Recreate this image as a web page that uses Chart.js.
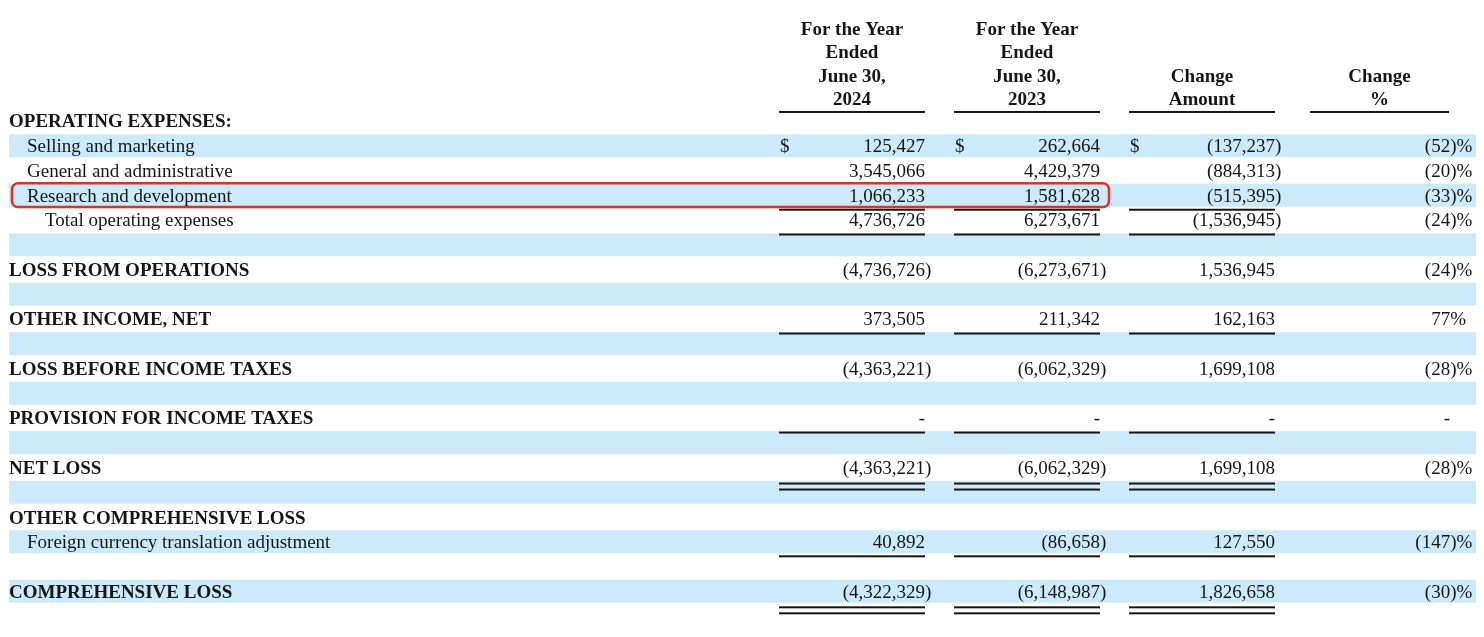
<!DOCTYPE html>
<html>
<head>
<meta charset="utf-8">
<script src="https://cdn.jsdelivr.net/npm/chart.js@4.4.1/dist/chart.umd.min.js"></script>
<style>
  html, body { margin: 0; padding: 0; background: #fff; }
  #wrap { width: 1484px; height: 637px; position: relative; }
</style>
</head>
<body>
<div id="wrap"><canvas id="table"></canvas></div>
<script>
// Rows of the statement (blank strings are spacer rows)
const rowLabels = [
  'OPERATING EXPENSES:',
  'Selling and marketing',
  'General and administrative',
  'Research and development',
  'Total operating expenses',
  '',
  'LOSS FROM OPERATIONS',
  '',
  'OTHER INCOME, NET',
  '',
  'LOSS BEFORE INCOME TAXES',
  '',
  'PROVISION FOR INCOME TAXES',
  '',
  'NET LOSS',
  '',
  'OTHER COMPREHENSIVE LOSS',
  'Foreign currency translation adjustment',
  '',
  'COMPREHENSIVE LOSS'
];

// Column headers
const colHeaders = [
  ['For the Year', 'Ended', 'June 30,', '2024'],
  ['For the Year', 'Ended', 'June 30,', '2023'],
  ['Change', 'Amount'],
  ['Change', '%']
];

// Values (null = empty cell, 0 = shown as "-")
const fy2024 = [null, 125427, 3545066, 1066233, 4736726, null, -4736726, null, 373505, null, -4363221, null, 0, null, -4363221, null, null, 40892, null, -4322329];
const fy2023 = [null, 262664, 4429379, 1581628, 6273671, null, -6273671, null, 211342, null, -6062329, null, 0, null, -6062329, null, null, -86658, null, -6148987];
const changeAmount = [null, -137237, -884313, -515395, -1536945, null, 1536945, null, 162163, null, 1699108, null, 0, null, 1699108, null, null, 127550, null, 1826658];
const changePct = [null, -52, -20, -33, -24, null, -24, null, 77, null, -28, null, 0, null, -28, null, null, -147, null, -30];

// Row formatting
const rowIndent = [0, 1, 1, 1, 2, 0, 0, 0, 0, 0, 0, 0, 0, 0, 0, 0, 0, 1, 0, 0];
const rowBold = [true, false, false, false, false, false, true, false, true, false, true, false, true, false, true, false, true, false, false, true];
const rowRule = ['', '', '', 'single', 'single', '', '', '', 'single', '', '', '', 'single', '', 'double', '', '', 'single', '', 'double'];
const dollarRows = ['Selling and marketing'];
const highlightRow = 'Research and development';

// Layout / style
const FONT = '"Liberation Serif", "Times New Roman", serif';
const FONT_SIZE = 19;
const TEXT = '#161616';
const STRIPE = 'rgb(204, 234, 250)';
const STRIPE_X = [9, 1476];
const INDENT = [9, 27, 45];
const COLS = [
  { left: 779, right: 925 },
  { left: 954, right: 1100 },
  { left: 1129, right: 1275 },
  { left: 1310, right: 1449, anchor: 1466 }
];
const BOX = { left: 12, right: 1109, color: '#dd3327' };

function fmtAmount(v) {
  if (v === 0) return '-';
  const s = Math.abs(v).toLocaleString('en-US');
  return v < 0 ? '(' + s + ')' : s;
}
function fmtPct(v) {
  if (v === 0) return '-';
  return v < 0 ? '(' + Math.abs(v) + ')%' : v + '%';
}

const tablePlugin = {
  id: 'finTable',
  afterDatasetsDraw(chart) {
    const { ctx, scales: { x, y } } = chart;
    const band = y.getPixelForValue(1) - y.getPixelForValue(0);
    const y0 = y.getPixelForValue(0);
    const font = (bold) => (bold ? 'bold ' : '') + FONT_SIZE + 'px ' + FONT;
    const base = (cy) => cy + FONT_SIZE * 0.34;

    ctx.save();
    ctx.fillStyle = TEXT;
    ctx.strokeStyle = '#000';

    // header
    ctx.font = font(true);
    ctx.textAlign = 'center';
    const lineH = 23.6;
    colHeaders.forEach((lines, c) => {
      const cx = x.getPixelForValue((COLS[c].left + COLS[c].right) / 2);
      lines.forEach((t, k) => {
        const cy = y0 - 22 - (lines.length - 1 - k) * lineH;
        ctx.fillText(t, cx, base(cy));
      });
      ctx.fillRect(x.getPixelForValue(COLS[c].left), y0 - 10, x.getPixelForValue(COLS[c].right) - x.getPixelForValue(COLS[c].left), 2);
    });

    const series = [fy2024, fy2023, changeAmount];
    rowLabels.forEach((label, i) => {
      const cy = y.getPixelForValue(i);
      // row label
      ctx.textAlign = 'left';
      ctx.font = font(rowBold[i]);
      if (label) ctx.fillText(label, x.getPixelForValue(INDENT[rowIndent[i]]), base(cy));

      ctx.font = font(false);
      const parenW = ctx.measureText(')').width;
      // amount columns
      series.forEach((arr, c) => {
        const v = arr[i];
        if (v === null) return;
        const s = fmtAmount(v);
        ctx.textAlign = 'right';
        const right = x.getPixelForValue(COLS[c].right) + (s.endsWith(')') ? parenW : 0);
        ctx.fillText(s, right, base(cy));
        if (dollarRows.includes(label)) {
          ctx.textAlign = 'left';
          ctx.fillText('$', x.getPixelForValue(COLS[c].left + 1), base(cy));
        }
      });
      // percent column
      const p = changePct[i];
      if (p !== null) {
        const s = fmtPct(p);
        ctx.textAlign = 'right';
        let right = x.getPixelForValue(COLS[3].anchor);
        if (s.includes(')')) right += parenW;
        if (s === '-') right -= ctx.measureText('%').width;
        ctx.fillText(s, right, base(cy));
      }
      // rules under amount columns
      const rule = rowRule[i];
      if (rule) {
        for (let c = 0; c < 3; c++) {
          const l = x.getPixelForValue(COLS[c].left);
          const w = x.getPixelForValue(COLS[c].right) - l;
          if (rule === 'single') {
            ctx.fillRect(l, cy + 13.5, w, 2);
          } else {
            ctx.fillRect(l, cy + 15, w, 2);
            ctx.fillRect(l, cy + 21, w, 2);
          }
        }
      }
    });

    // highlight box
    const hi = rowLabels.indexOf(highlightRow);
    if (hi >= 0) {
      const cy = y.getPixelForValue(hi);
      const l = x.getPixelForValue(BOX.left);
      const r = x.getPixelForValue(BOX.right);
      ctx.strokeStyle = BOX.color;
      ctx.lineWidth = 2.5;
      ctx.beginPath();
      ctx.roundRect(l, cy - band / 2 + 0.5, r - l, band - 1, 6);
      ctx.stroke();
    }
    ctx.restore();
  }
};

const stripes = rowLabels.map((_, i) => (i % 2 === 1 ? STRIPE_X : null));

new Chart(document.getElementById('table'), {
  type: 'bar',
  data: {
    labels: rowLabels,
    datasets: [{
      data: stripes,
      backgroundColor: STRIPE,
      borderWidth: 0,
      barPercentage: 0.93,
      categoryPercentage: 1
    }]
  },
  options: {
    indexAxis: 'y',
    responsive: true,
    maintainAspectRatio: false,
    animation: false,
    layout: { padding: { top: 108.6, bottom: 33.3, left: 0, right: 0 } },
    scales: {
      x: { type: 'linear', min: 0, max: 1484, display: false },
      y: { type: 'category', display: false, offset: true }
    },
    plugins: {
      legend: { display: false },
      tooltip: { enabled: false }
    }
  },
  plugins: [tablePlugin]
});
</script>
</body>
</html>
